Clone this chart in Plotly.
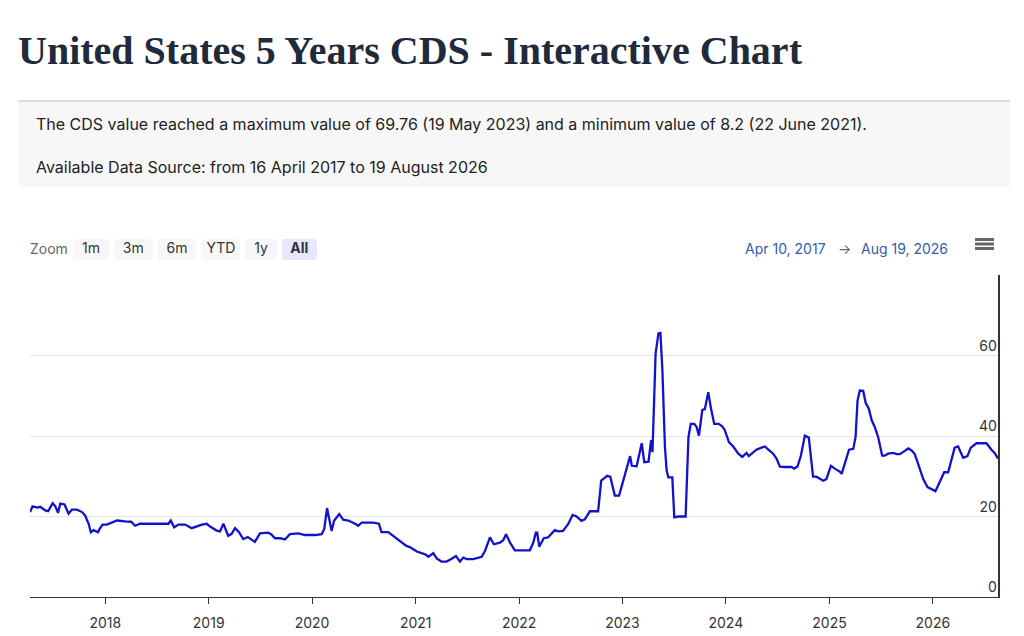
import plotly.graph_objects as go

# weekly-ish readings of the 5y CDS
dates = [
    "2017-04-10", "2017-04-19", "2017-05-05", "2017-05-16", "2017-06-03", "2017-06-13",
    "2017-06-29", "2017-07-08", "2017-07-18", "2017-07-26", "2017-08-10", "2017-08-24",
    "2017-09-05", "2017-09-23", "2017-10-11", "2017-10-22", "2017-11-03", "2017-11-11",
    "2017-11-20", "2017-11-29", "2017-12-06", "2017-12-11", "2017-12-22",
    "2018-01-07", "2018-01-24", "2018-02-11", "2018-03-12", "2018-04-02", "2018-04-16",
    "2018-05-04", "2018-06-14", "2018-08-12", "2018-08-20", "2018-09-01", "2018-09-16",
    "2018-10-10", "2018-11-02", "2018-11-20", "2018-12-08", "2018-12-25",
    "2019-01-06", "2019-01-29", "2019-02-10", "2019-02-22", "2019-03-11", "2019-03-23",
    "2019-04-04", "2019-04-18", "2019-05-03", "2019-05-19", "2019-06-02", "2019-06-13",
    "2019-07-01", "2019-07-30", "2019-08-09", "2019-08-23", "2019-09-10", "2019-09-27",
    "2019-10-15", "2019-11-13", "2019-12-07",
    "2020-01-11", "2020-02-04", "2020-02-13", "2020-02-23", "2020-03-04", "2020-03-10",
    "2020-03-19", "2020-04-06", "2020-04-20", "2020-05-08", "2020-06-01", "2020-06-12",
    "2020-06-24", "2020-08-04", "2020-08-24", "2020-09-02", "2020-09-26", "2020-10-19",
    "2020-11-12", "2020-11-29", "2020-12-11",
    "2021-01-05", "2021-02-03", "2021-02-15", "2021-03-04", "2021-03-16", "2021-04-02",
    "2021-04-20", "2021-05-08", "2021-05-23", "2021-06-06", "2021-06-18", "2021-06-30",
    "2021-07-23", "2021-08-22", "2021-09-03", "2021-09-20", "2021-10-04", "2021-10-25",
    "2021-11-06", "2021-11-16", "2021-11-30", "2021-12-17",
    "2022-02-08", "2022-02-20", "2022-03-01", "2022-03-06", "2022-03-13", "2022-03-29",
    "2022-04-13", "2022-05-07", "2022-05-19", "2022-06-05", "2022-06-23", "2022-07-09",
    "2022-07-23", "2022-08-09", "2022-08-21", "2022-09-08", "2022-10-07", "2022-10-18",
    "2022-11-08", "2022-11-19", "2022-12-05", "2022-12-20",
    "2023-01-01", "2023-01-16", "2023-01-28", "2023-02-03", "2023-02-20", "2023-03-10",
    "2023-03-19", "2023-04-03", "2023-04-12", "2023-04-17", "2023-04-20", "2023-04-28",
    "2023-05-08", "2023-05-15", "2023-05-22", "2023-05-31", "2023-06-06", "2023-06-12",
    "2023-06-26", "2023-07-03", "2023-07-17", "2023-08-12", "2023-08-22", "2023-08-30",
    "2023-09-12", "2023-09-20", "2023-09-28", "2023-10-10", "2023-10-19", "2023-10-31",
    "2023-11-09", "2023-11-21", "2023-12-07", "2023-12-19", "2023-12-28",
    "2024-01-12", "2024-01-27", "2024-02-14", "2024-02-28", "2024-03-14", "2024-03-22",
    "2024-04-01", "2024-04-18", "2024-05-06", "2024-05-18", "2024-05-30", "2024-06-16",
    "2024-06-28", "2024-07-10", "2024-07-27", "2024-08-20", "2024-08-29", "2024-09-10",
    "2024-09-22", "2024-10-06", "2024-10-20", "2024-10-30", "2024-11-04", "2024-11-16",
    "2024-12-10", "2024-12-21",
    "2025-01-06", "2025-01-20", "2025-02-07", "2025-02-13", "2025-02-25", "2025-03-11",
    "2025-03-26", "2025-04-03", "2025-04-10", "2025-04-18", "2025-04-30", "2025-05-09",
    "2025-05-20", "2025-05-30", "2025-06-10", "2025-06-22", "2025-07-06", "2025-07-15",
    "2025-07-27", "2025-08-14", "2025-08-26", "2025-09-06", "2025-09-24", "2025-10-06",
    "2025-10-18", "2025-10-29", "2025-11-10", "2025-11-28", "2025-12-13", "2025-12-27",
    "2026-01-10", "2026-01-22", "2026-02-10", "2026-02-24", "2026-03-10", "2026-03-19",
    "2026-03-31", "2026-04-18", "2026-05-03", "2026-05-15", "2026-06-04", "2026-07-09",
    "2026-07-27", "2026-08-07", "2026-08-19",
]
cds = [
    21.1, 22.5, 22.2, 22.4, 21.5, 21.3,
    23.3, 22.6, 20.9, 23.2, 23.0, 20.7,
    21.7, 21.7, 21.1, 20.2, 18.2, 16.1,
    16.6, 16.3, 16.1, 16.8, 18.0,
    18.0, 18.5, 19.0, 18.8, 18.7, 17.7,
    18.2, 18.2, 18.2, 19.0, 17.3, 18.0,
    18.0, 17.1, 17.6, 18.0, 18.2,
    17.5, 16.5, 16.3, 18.2, 15.2, 15.7,
    17.1, 16.1, 14.4, 14.9, 14.1, 13.7,
    15.8, 16.0, 15.6, 14.6, 14.6, 14.3,
    15.6, 15.8, 15.4,
    15.4, 15.6, 16.9, 22.1, 19.0, 16.4,
    19.0, 20.6, 19.2, 19.0, 18.2, 17.7,
    18.5, 18.5, 18.2, 16.1, 16.1, 14.9,
    13.8, 12.7, 12.4,
    11.3, 10.6, 10.0, 10.9, 9.6, 8.8,
    8.8, 9.5, 10.2, 8.8, 9.8, 9.4,
    9.4, 10.0, 11.5, 14.8, 13.1, 13.5,
    14.1, 15.6, 13.5, 11.6,
    11.6, 13.5, 16.0, 16.0, 12.5, 14.6,
    14.8, 16.6, 16.3, 16.4, 18.1, 20.4,
    20.0, 18.9, 19.3, 21.3, 21.3, 28.9,
    30.1, 29.9, 25.2, 25.2,
    28.2, 32.6, 35.0, 32.6, 32.5, 38.2,
    33.5, 33.6, 39.0, 36.0, 44.7, 60.5,
    65.5, 65.6, 56.3, 37.2, 31.4, 29.7,
    29.7, 19.8, 20.0, 20.0, 39.7, 43.0,
    43.0, 42.2, 40.1, 46.5, 46.7, 50.9,
    47.0, 43.0, 43.0, 42.4, 41.5,
    38.5, 37.4, 35.6, 34.8, 35.8, 35.0,
    35.6, 36.6, 37.1, 37.4, 36.6, 35.6,
    34.4, 32.4, 32.3, 32.3, 31.9, 32.4,
    35.1, 40.1, 39.6, 33.5, 29.9, 29.9,
    28.9, 29.3,
    32.6, 31.9, 31.1, 30.6, 33.5, 36.6,
    36.8, 39.7, 48.8, 51.3, 51.2, 48.2,
    46.8, 43.9, 42.2, 39.7, 35.1, 35.1,
    35.6, 35.8, 35.5, 35.5, 36.3, 36.9,
    36.4, 35.5, 33.1, 29.3, 27.3, 26.7,
    26.3, 28.1, 31.0, 31.0, 34.8, 37.1,
    37.4, 34.6, 35.0, 37.1, 38.2, 38.2,
    36.6, 35.8, 34.4,
]

y_ticks = [0, 20, 40, 60, 80]
y_labels = ["0", "20", "40", "60", ""]

title_text = "United States 5 Years CDS - Interactive Chart"
info_line1 = ("The CDS value reached a maximum value of 69.76 (19 May 2023) "
              "and a minimum value of 8.2 (22 June 2021).")
info_line2 = "Available Data Source: from 16 April 2017 to 19 August 2026"

# plot area in page pixels, used to place the page decorations
PL, PR, PT, PB = 30, 998, 275, 597


def px(x):
    return (x - PL) / (PR - PL)


def py(y):
    return (PB - y) / (PB - PT)


sans = "Inter, 'Noto Sans', sans-serif"
nb = "\u00a0"

fig = go.Figure(go.Scatter(
    x=dates, y=cds, mode="lines",
    line=dict(color="#1212cc", width=2.3),
    name="CDS", hoverinfo="x+y",
))

shapes = [
    dict(type="rect", xref="paper", yref="paper",
         x0=px(18), x1=px(1010), y0=py(187), y1=py(101),
         fillcolor="#f7f7f7", line=dict(width=0), layer="below"),
    dict(type="line", xref="paper", yref="paper",
         x0=px(18), x1=px(1010), y0=py(101), y1=py(101),
         line=dict(color="#dcdcdc", width=2)),
]
# hamburger menu icon
for yy in (239.5, 244, 248.5):
    shapes.append(dict(type="line", xref="paper", yref="paper",
                       x0=px(975), x1=px(994), y0=py(yy), y1=py(yy),
                       line=dict(color="#666666", width=3)))

annotations = [
    dict(text="<b>" + title_text + "</b>", xref="paper", yref="paper",
         x=px(16), y=py(50), xanchor="left", yanchor="middle", showarrow=False,
         font=dict(family="'Liberation Serif', serif", size=40, color="#1f2a3a")),
    dict(text=info_line1, xref="paper", yref="paper",
         x=px(34), y=py(124), xanchor="left", yanchor="middle", showarrow=False,
         font=dict(family=sans, size=16, color="#222222")),
    dict(text=info_line2, xref="paper", yref="paper",
         x=px(34), y=py(167), xanchor="left", yanchor="middle", showarrow=False,
         font=dict(family=sans, size=16, color="#222222")),
    dict(text="Zoom", xref="paper", yref="paper",
         x=px(28), y=py(248), xanchor="left", yanchor="middle", showarrow=False,
         font=dict(family=sans, size=14, color="#666666")),
    dict(text="Apr 10, 2017", xref="paper", yref="paper",
         x=px(828), y=py(248), xanchor="right", yanchor="middle", showarrow=False,
         font=dict(family=sans, size=14, color="#335cad")),
    dict(text="→", xref="paper", yref="paper",
         x=px(844), y=py(248), xanchor="center", yanchor="middle", showarrow=False,
         font=dict(family=sans, size=14, color="#666666")),
    dict(text="Aug 19, 2026", xref="paper", yref="paper",
         x=px(859), y=py(248), xanchor="left", yanchor="middle", showarrow=False,
         font=dict(family=sans, size=14, color="#335cad")),
]

fig.update_layout(
    width=1024, height=636,
    margin=dict(l=PL, r=1024 - PR, t=PT, b=636 - PB, autoexpand=False),
    paper_bgcolor="white", plot_bgcolor="white",
    showlegend=False,
    font=dict(family=sans, size=14, color="#333333"),
    shapes=shapes,
    annotations=annotations,
    xaxis=dict(
        type="date", autorange=True, automargin=False,
        autorangeoptions=dict(clipmin=dates[0], clipmax=dates[-1]),
        showgrid=False, zeroline=False,
        showline=True, linecolor="#333333", linewidth=1,
        ticks="outside", ticklen=6, tickcolor="#333333",
        dtick="M12", tickformat="%Y", ticklabelstandoff=7,
        tickfont=dict(size=14, color="#333333"),
        rangeselector=dict(
            buttons=[
                dict(count=1, label=nb + "1m" + nb, step="month", stepmode="backward"),
                dict(count=3, label=nb + "3m" + nb, step="month", stepmode="backward"),
                dict(count=6, label=nb + "6m" + nb, step="month", stepmode="backward"),
                dict(count=1, label="YTD", step="year", stepmode="todate"),
                dict(count=1, label=nb + "1y" + nb, step="year", stepmode="backward"),
                dict(label="<b>" + nb + "All" + nb + "</b>", step="all"),
            ],
            x=px(73), y=py(260), xanchor="left", yanchor="bottom",
            bgcolor="#f7f7f7", activecolor="#e6e6ff",
            font=dict(family=sans, size=14, color="#333333"),
        ),
    ),
    yaxis=dict(
        side="right", range=[0, 80], automargin=False,
        tickvals=y_ticks, ticktext=y_labels,
        ticklabelposition="inside top",
        showgrid=True, gridcolor="#e6e6e6", gridwidth=1,
        zeroline=False,
        showline=True, linecolor="#333333", linewidth=2,
        tickfont=dict(size=14, color="#333333"),
    ),
)

fig.write_html("out.html", config={"displayModeBar": False},
               post_script="document.body.style.margin='0';")
